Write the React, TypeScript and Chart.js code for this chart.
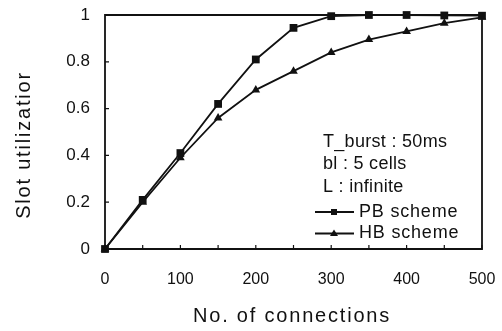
import React, { useEffect, useRef } from "react";
import { Chart, registerables } from "chart.js";

Chart.register(...registerables);

const connections = [0, 50, 100, 150, 200, 250, 300, 350, 400, 450, 500];
const pbUtil = [0, 0.21, 0.41, 0.62, 0.81, 0.945, 0.995, 1.0, 1.0, 0.998, 0.997];
const hbUtil = [0, 0.2, 0.39, 0.56, 0.68, 0.76, 0.84, 0.895, 0.93, 0.965, 0.99];
const seriesNames = ["PB scheme", "HB scheme"];
const paramLines = ["T_burst : 50ms", "bl : 5 cells", "L : infinite"];
const xTitle = "No. of connections";
const yTitle = "Slot utilizatior";

const INK = "#111";
const FONT = "Arial, 'Liberation Sans', sans-serif";

const decorPlugin = {
  id: "decor",
  afterDraw(chart: any) {
    const { ctx, chartArea } = chart;
    const xs = chart.scales.x;
    const ys = chart.scales.y;
    ctx.save();
    ctx.strokeStyle = INK;
    ctx.lineWidth = 1.8;
    // frame
    ctx.beginPath();
    ctx.moveTo(chartArea.left, chartArea.top);
    ctx.lineTo(chartArea.right, chartArea.top);
    ctx.lineTo(chartArea.right, chartArea.bottom);
    ctx.lineTo(chartArea.left, chartArea.bottom);
    ctx.closePath();
    ctx.stroke();
    // inward ticks
    ctx.lineWidth = 1.2;
    ctx.beginPath();
    for (const t of xs.ticks) {
      const px = xs.getPixelForValue(t.value);
      ctx.moveTo(px, chartArea.bottom);
      ctx.lineTo(px, chartArea.bottom - 4);
    }
    for (const t of ys.ticks) {
      const py = ys.getPixelForValue(t.value);
      ctx.moveTo(chartArea.left, py);
      ctx.lineTo(chartArea.left + 4, py);
    }
    ctx.stroke();

    // titles
    ctx.fillStyle = INK;
    ctx.textAlign = "center";
    ctx.textBaseline = "middle";
    (ctx as any).letterSpacing = "1.8px";
    ctx.font = `20px ${FONT}`;
    ctx.fillText(xTitle, 292, 316);
    ctx.save();
    ctx.translate(24, 145);
    ctx.rotate(-Math.PI / 2);
    ctx.fillText(yTitle, 0, 0);
    ctx.restore();

    // parameter text
    (ctx as any).letterSpacing = "0.3px";
    ctx.font = `18px ${FONT}`;
    ctx.textAlign = "left";
    paramLines.forEach((s, i) => {
      ctx.fillText(s, 323, 142 + i * 22.5);
    });
    // legend
    (ctx as any).letterSpacing = "0.8px";
    const styles = ["rect", "triangle"];
    seriesNames.forEach((name, i) => {
      const y = 212 + i * 21.5;
      ctx.lineWidth = 1.8;
      ctx.beginPath();
      ctx.moveTo(315, y);
      ctx.lineTo(354, y);
      ctx.stroke();
      ctx.fillStyle = INK;
      if (styles[i] === "rect") {
        ctx.fillRect(331, y - 3, 6, 6);
      } else {
        ctx.beginPath();
        ctx.moveTo(334, y - 4);
        ctx.lineTo(338, y + 2.5);
        ctx.lineTo(330, y + 2.5);
        ctx.closePath();
        ctx.fill();
      }
      ctx.fillText(name, 359, y);
    });
    ctx.restore();
  },
};

export default function App() {
  const ref = useRef<HTMLCanvasElement | null>(null);
  useEffect(() => {
    if (!ref.current) return;
    const chart = new Chart(ref.current, {
      type: "line",
      data: {
        datasets: [
          {
            label: seriesNames[0],
            data: connections.map((x, i) => ({ x, y: pbUtil[i] })),
            borderColor: INK,
            backgroundColor: INK,
            borderWidth: 1.8,
            pointStyle: "rect",
            pointRadius: 5.5,
            pointBorderWidth: 0,
            clip: false as any,
          },
          {
            label: seriesNames[1],
            data: connections.map((x, i) => ({ x, y: hbUtil[i] })),
            borderColor: INK,
            backgroundColor: INK,
            borderWidth: 1.8,
            pointStyle: "triangle",
            pointRadius: 5,
            pointBorderWidth: 0,
            clip: false as any,
          },
        ],
      },
      options: {
        responsive: false,
        animation: false,
        devicePixelRatio: 1,
        layout: { padding: { left: 0, top: 15, right: 20, bottom: 0 } },
        plugins: { legend: { display: false }, tooltip: { enabled: false } },
        scales: {
          x: {
            type: "linear",
            min: 0,
            max: 500,
            grid: { display: false, drawTicks: false },
            border: { display: false },
            ticks: {
              stepSize: 50,
              padding: 21,
              color: INK,
              font: { size: 16, family: FONT },
              maxRotation: 0,
              autoSkip: false,
              callback: (v: any) => (Number(v) % 100 === 0 ? String(v) : ""),
            },
            afterFit: (s: any) => {
              s.height = 82;
              s.paddingLeft = 0;
              s.paddingRight = 0;
            },
          },
          y: {
            min: 0,
            max: 1,
            grid: { display: false, drawTicks: false },
            border: { display: false },
            ticks: {
              stepSize: 0.2,
              padding: 15,
              color: INK,
              font: { size: 17, family: FONT },
              callback: (v: any) => String(Number(Number(v).toFixed(1))),
            },
            afterFit: (s: any) => {
              s.width = 105;
              s.paddingTop = 0;
              s.paddingBottom = 0;
            },
          },
        },
      },
      plugins: [decorPlugin],
    });
    return () => chart.destroy();
  }, []);
  return (
    <div style={{ position: "absolute", left: 0, top: 0, width: 502, height: 331, background: "#fff" }}>
      <canvas ref={ref} width={502} height={331} />
    </div>
  );
}
